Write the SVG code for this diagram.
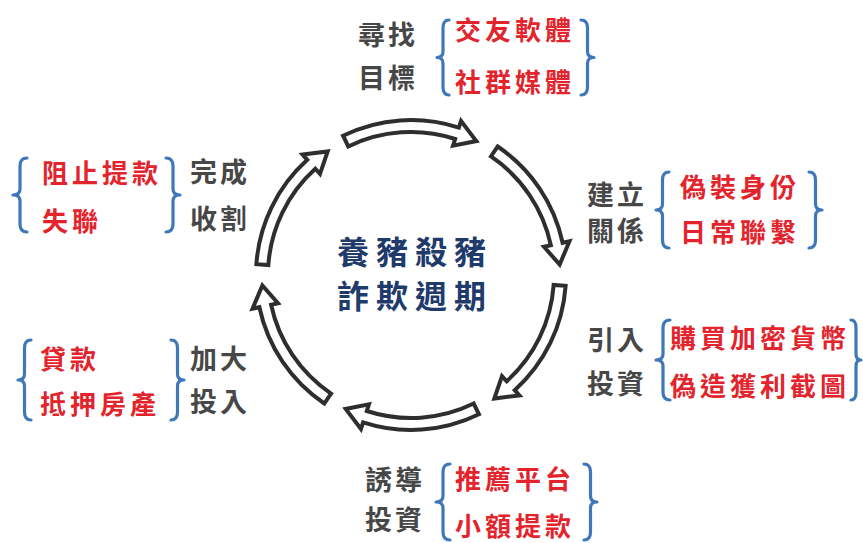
<svg xmlns="http://www.w3.org/2000/svg" width="863" height="543" viewBox="0 0 863 543">
<defs>
<style>
.g{font-family:"Noto Sans CJK TC","Noto Sans CJK SC",sans-serif;font-size:27px;font-weight:700;fill:#474747;letter-spacing:3px;dominant-baseline:central}
.r{font-family:"Noto Sans CJK TC","Noto Sans CJK SC",sans-serif;font-size:26px;font-weight:700;fill:#e3242d;letter-spacing:4px;dominant-baseline:central}
.c{font-family:"Noto Sans CJK TC","Noto Sans CJK SC",sans-serif;font-size:32px;font-weight:700;fill:#1f3b6c;letter-spacing:7px;dominant-baseline:central}
.b{fill:none;stroke:#3f78b8;stroke-width:3.2;stroke-linecap:round;stroke-linejoin:round}
.a{fill:#fff;stroke:#2e2e2e;stroke-width:4;stroke-linejoin:miter}
</style>
<path id="arr" d="M343.05 135.69 A155 155 0 0 1 458.90 127.59 L461.06 120.93 L476.32 141.08 L453.03 145.66 L455.19 139.00 A143 143 0 0 0 348.31 146.47 Z"/>
</defs>
<rect width="863" height="543" fill="#fff"/>
<g id="connectors">
<use href="#arr" class="a"/>
<use href="#arr" class="a" transform="rotate(60 411 275)"/>
<use href="#arr" class="a" transform="rotate(120 411 275)"/>
<use href="#arr" class="a" transform="rotate(180 411 275)"/>
<use href="#arr" class="a" transform="rotate(240 411 275)"/>
<use href="#arr" class="a" transform="rotate(300 411 275)"/>
</g>
<g id="center">
<text class="c" x="337" y="250">養豬殺豬</text>
<text class="c" x="337" y="294">詐欺週期</text>
</g>
<g id="find-target">
<text class="g" x="358" y="33">尋找</text>
<text class="g" x="358" y="76">目標</text>
<path class="b" d="M449 20 Q443 20 443 28 L443 51.5 Q443 57.5 437 57.5 Q443 57.5 443 63.5 L443 87 Q443 95 449 95"/>
<text class="r" x="455" y="28">交友軟體</text>
<text class="r" x="455" y="80">社群媒體</text>
<path class="b" d="M581 20 Q587.5 20 587.5 28 L587.5 51.5 Q587.5 57.5 594 57.5 Q587.5 57.5 587.5 63.5 L587.5 87 Q587.5 95 581 95"/>
</g>
<g id="build-relation">
<text class="g" x="587" y="193">建立</text>
<text class="g" x="587" y="229">關係</text>
<path class="b" d="M669 172 Q662.5 172 662.5 180 L662.5 204 Q662.5 210 656 210 Q662.5 210 662.5 216 L662.5 240 Q662.5 248 669 248"/>
<text class="r" x="680" y="185">偽裝身份</text>
<text class="r" x="680" y="230">日常聯繫</text>
<path class="b" d="M809 172 Q815.5 172 815.5 180 L815.5 204 Q815.5 210 822 210 Q815.5 210 815.5 216 L815.5 240 Q815.5 248 809 248"/>
</g>
<g id="introduce-invest">
<text class="g" x="587" y="338">引入</text>
<text class="g" x="587" y="382">投資</text>
<path class="b" d="M670 320 Q663 320 663 328 L663 354 Q663 360 656 360 Q663 360 663 366 L663 392 Q663 400 670 400"/>
<text class="r" x="670" y="336" letter-spacing="5">購買加密貨幣</text>
<text class="r" x="670" y="384" letter-spacing="5">偽造獲利截圖</text>
<path class="b" d="M851 320 Q856 320 856 328 L856 354 Q856 360 861 360 Q856 360 856 366 L856 392 Q856 400 851 400"/>
</g>
<g id="induce-invest">
<text class="g" x="365" y="478">誘導</text>
<text class="g" x="365" y="518">投資</text>
<path class="b" d="M450 464 Q443 464 443 472 L443 496 Q443 502 436 502 Q443 502 443 508 L443 532 Q443 540 450 540"/>
<text class="r" x="455" y="477">推薦平台</text>
<text class="r" x="455" y="524">小額提款</text>
<path class="b" d="M584 464 Q590.5 464 590.5 472 L590.5 496 Q590.5 502 597 502 Q590.5 502 590.5 508 L590.5 532 Q590.5 540 584 540"/>
</g>
<g id="increase-invest">
<path class="b" d="M31 340 Q24.5 340 24.5 348 L24.5 374 Q24.5 380 18 380 Q24.5 380 24.5 386 L24.5 412 Q24.5 420 31 420"/>
<text class="r" x="40" y="357">貸款</text>
<text class="r" x="40" y="402">抵押房產</text>
<path class="b" d="M171 340 Q177.5 340 177.5 348 L177.5 374 Q177.5 380 184 380 Q177.5 380 177.5 386 L177.5 412 Q177.5 420 171 420"/>
<text class="g" x="190" y="357">加大</text>
<text class="g" x="190" y="400">投入</text>
</g>
<g id="harvest">
<path class="b" d="M27 158 Q20 158 20 166 L20 189 Q20 195 13 195 Q20 195 20 201 L20 224 Q20 232 27 232"/>
<text class="r" x="42" y="171">阻止提款</text>
<text class="r" x="42" y="219">失聯</text>
<path class="b" d="M166 158 Q173 158 173 166 L173 189 Q173 195 180 195 Q173 195 173 201 L173 224 Q173 232 166 232"/>
<text class="g" x="190" y="170">完成</text>
<text class="g" x="190" y="217">收割</text>
</g>
</svg>
